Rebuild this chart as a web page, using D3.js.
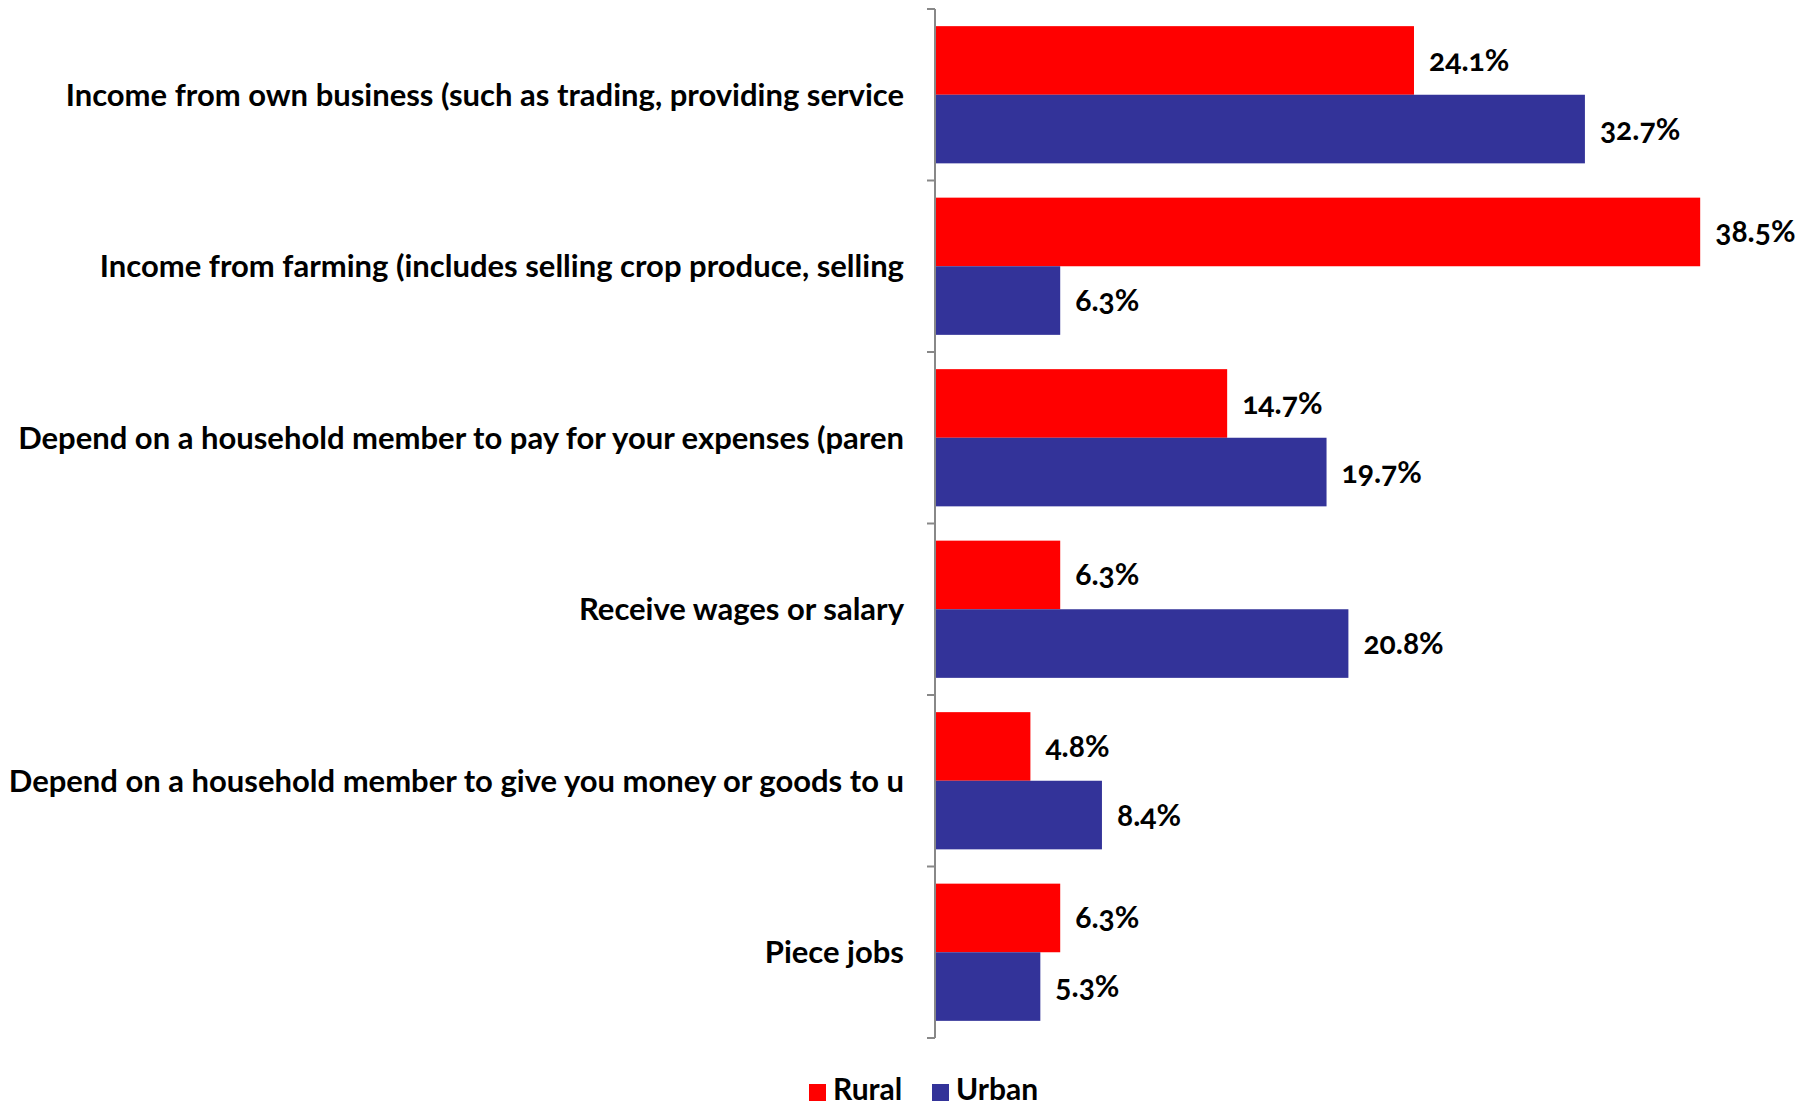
<!DOCTYPE html>
<html>
<head>
<meta charset="utf-8">
<script src="https://cdn.jsdelivr.net/npm/d3@7"></script>
<style>
  html, body { margin: 0; padding: 0; background: #fff; }
  svg { display: block; }
  text { font-family: Lato, "Open Sans", sans-serif; font-weight: 700; fill: #000; }
  text.val { font-variant-numeric: oldstyle-nums; font-feature-settings: "onum" 1; }
</style>
</head>
<body>
<svg id="chart" width="1815" height="1108"></svg>
<script>
// Sources of income, share of respondents (%)
const categories = [
  "Income from own business (such as trading, providing service",
  "Income from farming (includes selling crop produce, selling",
  "Depend on a household member to pay for your expenses (paren",
  "Receive wages or salary",
  "Depend on a household member to give you money or goods to u",
  "Piece jobs"
];
const seriesNames = ["Rural", "Urban"];
const rural = [24.1, 38.5, 14.7, 6.3, 4.8, 6.3];
const urban = [32.7, 6.3, 19.7, 20.8, 8.4, 5.3];
const seriesColors = ["#ff0000", "#333399"];

const rows = categories.map((c, i) => ({ category: c, values: [rural[i], urban[i]] }));

const svg = d3.select("#chart");
const margin = { top: 9, left: 935, bottom: 70, right: 85 };
const W = 1815, H = 1108;

// one full slot per category, ticks sit on the slot boundaries
const yBand = d3.scaleBand()
  .domain(categories)
  .range([margin.top, H - margin.bottom])
  .padding(0);

const inner = d3.scaleBand()
  .domain(seriesNames)
  .range([0, yBand.bandwidth() * 0.8]);

const x = d3.scaleLinear()
  .domain([0, 40])
  .range([margin.left, margin.left + 795]);

const groups = svg.append("g")
  .selectAll("g")
  .data(rows)
  .join("g")
  .attr("transform", d => `translate(0,${yBand(d.category) + yBand.bandwidth() * 0.1})`);

groups.selectAll("rect")
  .data(d => d.values.map((v, k) => ({ key: seriesNames[k], value: v, k })))
  .join("rect")
  .attr("x", x(0))
  .attr("y", d => inner(d.key))
  .attr("width", d => x(d.value) - x(0))
  .attr("height", inner.bandwidth())
  .attr("fill", d => seriesColors[d.k]);

groups.selectAll("text.val")
  .data(d => d.values.map((v, k) => ({ key: seriesNames[k], value: v })))
  .join("text")
  .attr("class", "val")
  .attr("x", d => x(d.value) + 15)
  .attr("y", d => inner(d.key) + inner.bandwidth() / 2)
  .attr("dy", "0.35em")
  .attr("font-size", 30)
  .text(d => d.value.toFixed(1) + "%");

// category axis on the left edge of the bars
const tickPositions = categories.map(c => yBand(c)).concat([yBand.range()[1]]);
const axisG = svg.append("g");
axisG.append("line")
  .attr("x1", x(0)).attr("x2", x(0))
  .attr("y1", margin.top).attr("y2", H - margin.bottom)
  .attr("stroke", "#888").attr("stroke-width", 2);
axisG.selectAll("line.tick")
  .data(tickPositions)
  .join("line")
  .attr("class", "tick")
  .attr("x1", x(0) - 8).attr("x2", x(0))
  .attr("y1", d => d).attr("y2", d => d)
  .attr("stroke", "#888").attr("stroke-width", 2);

axisG.selectAll("text.cat")
  .data(categories)
  .join("text")
  .attr("class", "cat")
  .attr("x", x(0) - 31)
  .attr("y", d => yBand(d) + yBand.bandwidth() / 2)
  .attr("dy", "0.35em")
  .attr("text-anchor", "end")
  .attr("font-size", 31)
  .text(d => d);

// legend
const legend = svg.append("g").attr("transform", "translate(809,1090)");
const legendOffsets = [0, 123];
seriesNames.forEach((s, i) => {
  const g = legend.append("g").attr("transform", `translate(${legendOffsets[i]},0)`);
  g.append("rect").attr("x", 0).attr("y", -6).attr("width", 17).attr("height", 17)
    .attr("fill", seriesColors[i]);
  g.append("text").attr("x", 24).attr("y", 10)
    .attr("font-size", 30).text(s);
});
</script>
</body>
</html>
